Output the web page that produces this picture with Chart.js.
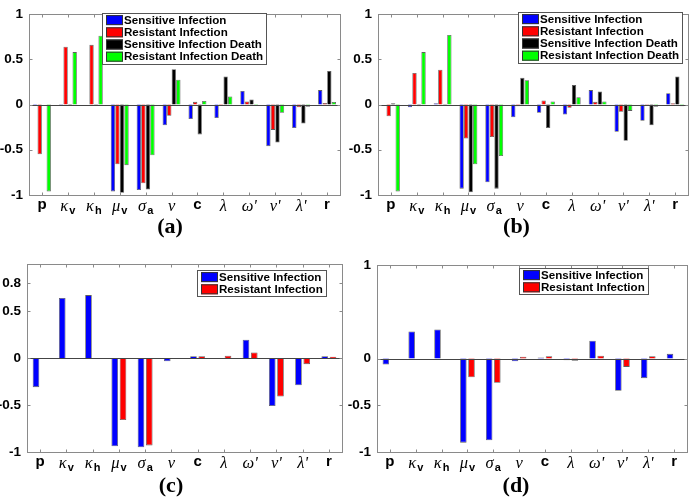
<!DOCTYPE html>
<html>
<head>
<meta charset="utf-8">
<script src="https://cdn.jsdelivr.net/npm/chart.js@4.4.1/dist/chart.umd.min.js"></script>
<style>
  body { margin: 0; background: #fff; }
  canvas { position: absolute; }
</style>
</head>
<body>
<canvas id="chart-a" width="345" height="250" style="left:0;top:0"></canvas>
<canvas id="chart-b" width="345" height="250" style="left:345px;top:0"></canvas>
<canvas id="chart-c" width="345" height="247" style="left:0;top:250px"></canvas>
<canvas id="chart-d" width="345" height="247" style="left:345px;top:250px"></canvas>
<script>
// parameter names + subscripts
const catNames = ['p', 'κ', 'κ', 'μ', 'σ', 'ν', 'c', 'λ', "ω'", "ν'", "λ'", 'r'];
const catSubs = ['', 'v', 'h', 'v', 'a', '', '', '', '', '', '', ''];

const seriesNames = ['Sensitive Infection', 'Resistant Infection', 'Sensitive Infection Death', 'Resistant Infection Death'];

// (a)
const aSensitive = [-0.01, -0.005, 0, -0.96, -0.945, -0.23, -0.16, -0.15, 0.15, -0.46, -0.26, 0.16];
const aResistant = [-0.55, 0.64, 0.66, -0.66, -0.87, -0.125, 0.03, -0.01, 0.035, -0.28, -0.03, 0.018];
const aSensDeath = [0, -0.01, -0.005, -0.975, -0.94, 0.39, -0.33, 0.31, 0.057, -0.42, -0.21, 0.37];
const aResDeath = [-0.96, 0.58, 0.76, -0.67, -0.56, 0.275, 0.04, 0.09, -0.01, -0.09, -0.025, 0.028];

// (b)
const bSensitive = [0, -0.03, 0.015, -0.93, -0.86, -0.14, -0.09, -0.11, 0.16, -0.30, -0.18, 0.125];
const bResistant = [-0.13, 0.35, 0.385, -0.375, -0.36, -0.018, 0.045, -0.035, 0.03, -0.08, -0.005, 0.015];
const bSensDeath = [0.015, -0.02, -0.005, -0.97, -0.93, 0.295, -0.26, 0.215, 0.145, -0.40, -0.23, 0.31];
const bResDeath = [-0.96, 0.58, 0.77, -0.66, -0.57, 0.27, 0.035, 0.08, 0.035, -0.07, -0.025, -0.02];

// (c)
const cSensitive = [-0.31, 0.64, 0.67, -0.94, -0.95, -0.035, 0.02, 0, 0.195, -0.51, -0.29, 0.02];
const cResistant = [0, 0, 0, -0.66, -0.93, -0.01, 0.02, 0.025, 0.06, -0.41, -0.065, 0.015];

// (d)
const dSensitive = [-0.065, 0.29, 0.31, -0.90, -0.875, -0.03, 0.01, -0.02, 0.19, -0.345, -0.21, 0.05];
const dResistant = [0, 0, 0, -0.20, -0.26, 0.02, 0.025, -0.025, 0.03, -0.09, 0.025, 0];

// y tick labels
const abTicks = [-1, -0.5, 0, 0.5, 1];
const cTicks = [-1, -0.5, 0, 0.5, 0.8];
const dTicks = [-1, -0.5, 0, 1];

const barColors = ['#0000ff', '#ff0000', '#000000', '#00ff00'];

Chart.defaults.font.family = '"Liberation Sans", Arial, sans-serif';
Chart.defaults.color = '#000';

// matlab style box, ticks, x labels and legend
const matlabAxes = {
    id: 'matlabAxes',
    afterDatasetsDraw(chart, args, o) {
        const ctx = chart.ctx;
        const a = chart.chartArea;
        const xs = chart.scales.x;
        const ys = chart.scales.y;
        ctx.save();

        // baseline
        const y0 = Math.round(ys.getPixelForValue(0)) + 0.5;
        ctx.strokeStyle = '#444';
        ctx.lineWidth = 1;
        ctx.beginPath();
        ctx.moveTo(a.left, y0);
        ctx.lineTo(a.right, y0);
        ctx.stroke();

        // box
        ctx.strokeStyle = '#8a8a8a';
        const l = Math.round(a.left) + 0.5, t = Math.round(a.top) + 0.5;
        const r = Math.round(a.right) + 0.5, b = Math.round(a.bottom) + 0.5;
        ctx.strokeRect(l, t, r - l, b - t);

        // tick marks inside
        ctx.beginPath();
        ys.ticks.forEach(tk => {
            const yy = Math.round(ys.getPixelForValue(tk.value)) + 0.5;
            ctx.moveTo(l, yy); ctx.lineTo(l + 3, yy);
            ctx.moveTo(r, yy); ctx.lineTo(r - 3, yy);
        });
        catNames.forEach((n, i) => {
            const xx = Math.round(xs.getPixelForValue(i)) + 0.5;
            ctx.moveTo(xx, b); ctx.lineTo(xx, b - 3);
            ctx.moveTo(xx, t); ctx.lineTo(xx, t + 3);
        });
        ctx.stroke();

        // category labels
        ctx.fillStyle = '#000';
        ctx.textBaseline = 'alphabetic';
        ctx.textAlign = 'left';
        catNames.forEach((n, i) => {
            const greek = /[^\x00-\x7F]/.test(n);
            const mainFont = greek ? 'italic 16.5px "Liberation Serif", serif' : 'bold 15px "Liberation Sans", Arial, sans-serif';
            const subFont = 'bold 11px "Liberation Sans", Arial, sans-serif';
            ctx.font = mainFont;
            const wm = ctx.measureText(n).width;
            ctx.font = subFont;
            const ws = catSubs[i] ? ctx.measureText(catSubs[i]).width + 1 : 0;
            const cx = xs.getPixelForValue(i);
            const x0 = cx - (wm + ws) / 2;
            ctx.font = mainFont;
            ctx.fillText(n, x0, a.bottom + (greek ? 16 : 14));
            if (catSubs[i]) {
                ctx.font = subFont;
                ctx.fillText(catSubs[i], x0 + wm + 1, a.bottom + 19);
            }
        });

        // legend
        const sets = chart.data.datasets;
        const lx = o.legendAt[0], ly = o.legendAt[1];
        const rowH = 12.2;
        ctx.font = 'bold 11.6px "Liberation Sans", Arial, sans-serif';
        let tw = 0;
        sets.forEach(ds => { tw = Math.max(tw, ctx.measureText(ds.label).width); });
        const bw = Math.round(tw + 25), bh = Math.round(sets.length * rowH + 2);
        ctx.fillStyle = '#fff';
        ctx.fillRect(lx, ly, bw, bh);
        ctx.strokeStyle = '#555';
        ctx.strokeRect(lx + 0.5, ly + 0.5, bw, bh);
        ctx.textBaseline = 'middle';
        sets.forEach((ds, i) => {
            const cy = ly + 1 + rowH * i + rowH / 2;
            ctx.fillStyle = ds.backgroundColor;
            ctx.fillRect(lx + 4, cy - 5, 17, 10);
            ctx.strokeStyle = '#333';
            ctx.strokeRect(lx + 4.5, cy - 4.5, 16, 9);
            ctx.fillStyle = '#000';
            ctx.fillText(ds.label, lx + 22, cy + 0.5);
        });

        ctx.restore();
    }
};

function makePanel(id, caption, series, yTicks, lay) {
    const datasets = series.map((vals, i) => ({
        label: seriesNames[i],
        data: vals,
        backgroundColor: barColors[i],
        borderColor: 'rgba(40,40,40,0.75)',
        borderWidth: 0.8,
        categoryPercentage: lay.catPct,
        barPercentage: lay.barPct
    }));
    return new Chart(document.getElementById(id), {
        type: 'bar',
        data: {
            labels: catNames.map((n, i) => n + catSubs[i]),
            datasets: datasets
        },
        plugins: [matlabAxes],
        options: {
            responsive: false,
            animation: false,
            devicePixelRatio: 1,
            layout: { padding: { top: lay.top, right: lay.right, left: 0, bottom: 0 } },
            scales: {
                x: {
                    grid: { display: false },
                    border: { display: false },
                    ticks: { display: false },
                    afterFit: s => { s.height = lay.xH; }
                },
                y: {
                    min: -1,
                    max: 1,
                    grid: { display: false, drawTicks: false },
                    border: { display: false },
                    afterBuildTicks: s => { s.ticks = yTicks.map(v => ({ value: v })); },
                    afterFit: s => { s.width = lay.yW; },
                    ticks: {
                        padding: 6,
                        font: { size: 13.5, weight: 'bold' },
                        color: '#000',
                        callback: v => String(v)
                    }
                }
            },
            plugins: {
                legend: { display: false },
                tooltip: { enabled: false },
                title: {
                    display: true,
                    text: caption,
                    position: 'bottom',
                    color: '#000',
                    font: { family: '"Liberation Serif", "Times New Roman", serif', size: 22, weight: 'bold', lineHeight: 1 },
                    padding: { top: 0, bottom: lay.titleB }
                },
                matlabAxes: { legendAt: lay.legend }
            }
        }
    });
}

makePanel('chart-a', '(a)', [aSensitive, aResistant, aSensDeath, aResDeath], abTicks,
    { top: 7, right: 5, yW: 29, xH: 21, titleB: 12, catPct: 0.70, barPct: 0.95, legend: [102, 13] });
makePanel('chart-b', '(b)', [bSensitive, bResistant, bSensDeath, bResDeath], abTicks,
    { top: 7, right: 2, yW: 33, xH: 21, titleB: 12, catPct: 0.70, barPct: 0.95, legend: [173, 12] });
makePanel('chart-c', '(c)', [cSensitive, cResistant], cTicks,
    { top: 14, right: 3, yW: 27, xH: 23, titleB: 0, catPct: 0.63, barPct: 0.8, legend: [197, 20] });
makePanel('chart-d', '(d)', [dSensitive, dResistant], dTicks,
    { top: 15, right: 3, yW: 32, xH: 23, titleB: 0, catPct: 0.63, barPct: 0.8, legend: [174, 18] });
</script>
</body>
</html>
